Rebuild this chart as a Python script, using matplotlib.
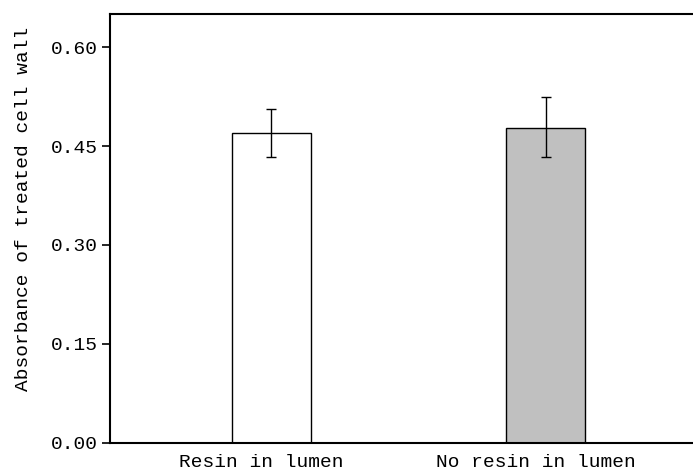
import matplotlib
matplotlib.use("Agg")
import matplotlib.pyplot as plt
import matplotlib.transforms as mtransforms
import numpy as np

groups = ["Resin in lumen", "No resin in lumen"]
means = [0.470, 0.478]
err_low = [0.036, 0.045]
err_high = [0.036, 0.046]
colors = ["white", "#c0c0c0"]
yticks = [0.00, 0.15, 0.30, 0.45, 0.60]

plt.rcParams['font.family'] = ['Liberation Mono', 'DejaVu Sans Mono']

fig = plt.figure(figsize=(6.93, 4.75), dpi=100)
ax = fig.add_axes([0.1587, 0.0674, 0.8413, 0.9031])

x = np.arange(len(groups))
ax.bar(x, means, width=0.29, color=colors, edgecolor="black", linewidth=1.0, zorder=2)
ax.errorbar(x, means, yerr=[err_low, err_high], fmt="none", ecolor="black",
            elinewidth=1.0, capsize=3.3, capthick=1.0, zorder=3)

ax.set_xlim(-0.589, 1.538)
ax.set_ylim(0, 0.65)
ax.set_yticks(yticks)
ax.set_yticklabels(["%.2f" % v for v in yticks], fontsize=14)
ax.set_xticks(x)
ax.set_xticklabels(groups, fontsize=14)
ax.tick_params(axis="x", length=0, pad=8)
ax.tick_params(axis="y", direction="out", length=5.5, width=1.2, pad=3)
ax.set_ylabel("Absorbance of treated cell wall", fontsize=14)
ax.yaxis.set_label_coords(-0.134, 0.545)

# labels in the original sit a little left of the bar centres
shift = mtransforms.ScaledTranslation(-0.1, 0, fig.dpi_scale_trans)
for lab in ax.get_xticklabels():
    lab.set_transform(lab.get_transform() + shift)

ax.spines["right"].set_visible(False)
for s in ["left", "top", "bottom"]:
    ax.spines[s].set_linewidth(1.5)

fig.savefig("out.png", dpi=100)
